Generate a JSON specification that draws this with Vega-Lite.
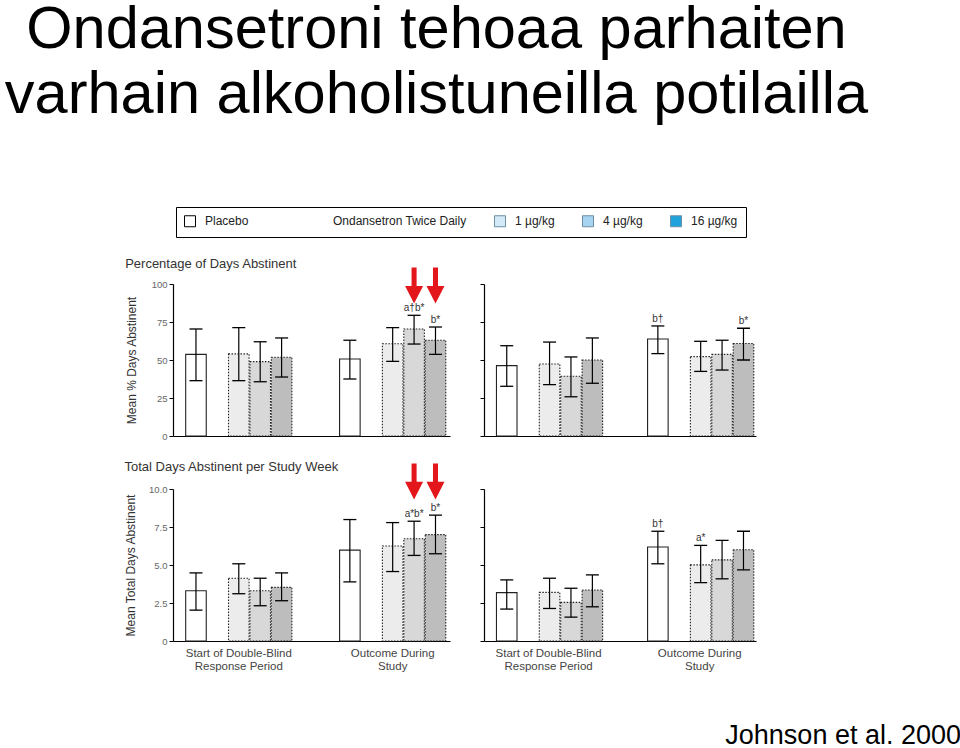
{
  "$schema": "https://vega.github.io/schema/vega-lite/v6.json",
  "padding": {"left": 4, "top": 0, "right": 2, "bottom": 0},
  "background": "white",
  "title": {
    "text": ["Ondansetroni tehoaa parhaiten", "varhain alkoholistuneilla potilailla"],
    "anchor": "start", "align": "center", "dx": 312, "frame": "bounds",
    "fontSize": 59.5, "font": "Liberation Sans", "fontWeight": "normal", "color": "#000",
    "lineHeight": 65, "baseline": "bottom", "offset": 22
  },
  "datasets": {
    "bars": [
      {"side": "early", "measure": "pct", "period": "Start of Double-Blind Response Period", "trt": "Placebo", "mean": 53.7, "lo": 36.4, "hi": 70.4, "sig": ""},
      {"side": "early", "measure": "pct", "period": "Start of Double-Blind Response Period", "trt": "1 µg/kg", "mean": 54, "lo": 36.4, "hi": 71.3, "sig": ""},
      {"side": "early", "measure": "pct", "period": "Start of Double-Blind Response Period", "trt": "4 µg/kg", "mean": 48.9, "lo": 35.7, "hi": 62, "sig": ""},
      {"side": "early", "measure": "pct", "period": "Start of Double-Blind Response Period", "trt": "16 µg/kg", "mean": 51.8, "lo": 38.8, "hi": 64.5, "sig": ""},
      {"side": "early", "measure": "pct", "period": "Outcome During Study", "trt": "Placebo", "mean": 50.7, "lo": 37.5, "hi": 63, "sig": ""},
      {"side": "early", "measure": "pct", "period": "Outcome During Study", "trt": "1 µg/kg", "mean": 60.7, "lo": 49.1, "hi": 71.3, "sig": ""},
      {"side": "early", "measure": "pct", "period": "Outcome During Study", "trt": "4 µg/kg", "mean": 70.4, "lo": 60.5, "hi": 79.4, "sig": "a†b*"},
      {"side": "early", "measure": "pct", "period": "Outcome During Study", "trt": "16 µg/kg", "mean": 63, "lo": 53.7, "hi": 71.7, "sig": "b*"},
      {"side": "late", "measure": "pct", "period": "Start of Double-Blind Response Period", "trt": "Placebo", "mean": 46.3, "lo": 32.7, "hi": 59.4, "sig": ""},
      {"side": "late", "measure": "pct", "period": "Start of Double-Blind Response Period", "trt": "1 µg/kg", "mean": 47.4, "lo": 33.8, "hi": 61.8, "sig": ""},
      {"side": "late", "measure": "pct", "period": "Start of Double-Blind Response Period", "trt": "4 µg/kg", "mean": 39.3, "lo": 25.8, "hi": 52, "sig": ""},
      {"side": "late", "measure": "pct", "period": "Start of Double-Blind Response Period", "trt": "16 µg/kg", "mean": 50, "lo": 34.7, "hi": 64.5, "sig": ""},
      {"side": "late", "measure": "pct", "period": "Outcome During Study", "trt": "Placebo", "mean": 63.8, "lo": 54.2, "hi": 72.4, "sig": "b†"},
      {"side": "late", "measure": "pct", "period": "Outcome During Study", "trt": "1 µg/kg", "mean": 52.2, "lo": 42.5, "hi": 62.3, "sig": ""},
      {"side": "late", "measure": "pct", "period": "Outcome During Study", "trt": "4 µg/kg", "mean": 53.7, "lo": 43.4, "hi": 63, "sig": ""},
      {"side": "late", "measure": "pct", "period": "Outcome During Study", "trt": "16 µg/kg", "mean": 60.9, "lo": 50, "hi": 70.9, "sig": "b*"},
      {"side": "early", "measure": "days", "period": "Start of Double-Blind Response Period", "trt": "Placebo", "mean": 3.31, "lo": 2.03, "hi": 4.48, "sig": ""},
      {"side": "early", "measure": "days", "period": "Start of Double-Blind Response Period", "trt": "1 µg/kg", "mean": 4.13, "lo": 3.11, "hi": 5.08, "sig": ""},
      {"side": "early", "measure": "days", "period": "Start of Double-Blind Response Period", "trt": "4 µg/kg", "mean": 3.31, "lo": 2.32, "hi": 4.13, "sig": ""},
      {"side": "early", "measure": "days", "period": "Start of Double-Blind Response Period", "trt": "16 µg/kg", "mean": 3.53, "lo": 2.65, "hi": 4.48, "sig": ""},
      {"side": "early", "measure": "days", "period": "Outcome During Study", "trt": "Placebo", "mean": 5.98, "lo": 3.89, "hi": 7.99, "sig": ""},
      {"side": "early", "measure": "days", "period": "Outcome During Study", "trt": "1 µg/kg", "mean": 6.25, "lo": 4.57, "hi": 7.79, "sig": ""},
      {"side": "early", "measure": "days", "period": "Outcome During Study", "trt": "4 µg/kg", "mean": 6.73, "lo": 5.63, "hi": 7.88, "sig": "a*b*"},
      {"side": "early", "measure": "days", "period": "Outcome During Study", "trt": "16 µg/kg", "mean": 7.0, "lo": 5.74, "hi": 8.28, "sig": "b*"},
      {"side": "late", "measure": "days", "period": "Start of Double-Blind Response Period", "trt": "Placebo", "mean": 3.18, "lo": 2.1, "hi": 4.02, "sig": ""},
      {"side": "late", "measure": "days", "period": "Start of Double-Blind Response Period", "trt": "1 µg/kg", "mean": 3.2, "lo": 2.14, "hi": 4.13, "sig": ""},
      {"side": "late", "measure": "days", "period": "Start of Double-Blind Response Period", "trt": "4 µg/kg", "mean": 2.54, "lo": 1.57, "hi": 3.47, "sig": ""},
      {"side": "late", "measure": "days", "period": "Start of Double-Blind Response Period", "trt": "16 µg/kg", "mean": 3.36, "lo": 2.25, "hi": 4.35, "sig": ""},
      {"side": "late", "measure": "days", "period": "Outcome During Study", "trt": "Placebo", "mean": 6.18, "lo": 5.08, "hi": 7.22, "sig": "b†"},
      {"side": "late", "measure": "days", "period": "Outcome During Study", "trt": "1 µg/kg", "mean": 5.01, "lo": 3.84, "hi": 6.29, "sig": "a*"},
      {"side": "late", "measure": "days", "period": "Outcome During Study", "trt": "4 µg/kg", "mean": 5.34, "lo": 4.09, "hi": 6.62, "sig": ""},
      {"side": "late", "measure": "days", "period": "Outcome During Study", "trt": "16 µg/kg", "mean": 6.0, "lo": 4.68, "hi": 7.22, "sig": ""}
    ],
    "arrows": [
      {"side": "early", "measure": "pct", "period": "Outcome During Study", "trt": "4 µg/kg", "ay": 99},
      {"side": "early", "measure": "pct", "period": "Outcome During Study", "trt": "16 µg/kg", "ay": 99},
      {"side": "early", "measure": "days", "period": "Outcome During Study", "trt": "4 µg/kg", "ay": 10.5},
      {"side": "early", "measure": "days", "period": "Outcome During Study", "trt": "16 µg/kg", "ay": 10.5}
    ]
  },
  "columns": 2,
  "spacing": {"row": 53, "column": 34},
  "bounds": "flush",
  "concat": [
    {
      "width": 277, "height": 152,
      "title": {"text": "Percentage of Days Abstinent", "anchor": "start", "frame": "bounds", "fontSize": 13, "fontWeight": "normal", "color": "#333", "offset": -3, "font": "Liberation Sans"},
      "data": {"name": "bars"},
      "transform": [{"filter": "datum.side == 'early' && datum.measure == 'pct'"}],
      "encoding": {
        "x": {"field": "period", "type": "nominal", "scale": {"domain": ["Start of Double-Blind Response Period", "Outcome During Study"], "paddingInner": 0.31, "paddingOuter": 0.055, "align": 0.75}, "axis": {"labels": false, "ticks": false, "title": null, "domainColor": "#000", "domainWidth": 1.2}},
        "xOffset": {"field": "trt", "type": "nominal", "scale": {"domain": ["Placebo", "gap", "1 µg/kg", "4 µg/kg", "16 µg/kg"], "paddingInner": 0.04, "paddingOuter": 0}}
      },
      "layer": [
        {"mark": {"type": "bar", "stroke": "#222", "strokeWidth": 1.1},
         "encoding": {
           "y": {"field": "mean", "type": "quantitative", "scale": {"domain": [0, 100], "nice": false}, "axis": {"values": [0, 25, 50, 75, 100], "title": "Mean % Days Abstinent", "titleFontSize": 12, "titleFontWeight": "normal", "titleColor": "#333", "titlePadding": 13, "labelFontSize": 9.5, "labelColor": "#666", "tickSize": 4, "labelPadding": 2, "domainWidth": 1.2, "grid": false}},
           "fill": {"field": "trt", "type": "nominal", "scale": {"domain": ["Placebo", "1 µg/kg", "4 µg/kg", "16 µg/kg"], "range": ["#ffffff", "#ececec", "#d8d8d8", "#bdbdbd"]}, "legend": null},
           "strokeDash": {"field": "trt", "type": "nominal", "scale": {"domain": ["Placebo", "1 µg/kg", "4 µg/kg", "16 µg/kg"], "range": [[1, 0], [1.5, 1.5], [1.5, 1.5], [1.5, 1.5]]}, "legend": null}
         }},
        {"mark": {"type": "rule", "color": "#000", "strokeWidth": 1.2},
         "encoding": {"y": {"field": "lo", "type": "quantitative", "scale": {"domain": [0, 100], "nice": false}, "axis": {"values": [0, 25, 50, 75, 100], "title": "Mean % Days Abstinent", "titleFontSize": 12, "titleFontWeight": "normal", "titleColor": "#333", "titlePadding": 13, "labelFontSize": 9.5, "labelColor": "#666", "tickSize": 4, "labelPadding": 2, "domainWidth": 1.2, "grid": false}}, "y2": {"field": "hi"}}},
        {"mark": {"type": "tick", "color": "#000", "size": 13, "thickness": 1.3, "opacity": 1},
         "encoding": {"y": {"field": "lo", "type": "quantitative", "scale": {"domain": [0, 100], "nice": false}, "axis": {"values": [0, 25, 50, 75, 100], "title": "Mean % Days Abstinent", "titleFontSize": 12, "titleFontWeight": "normal", "titleColor": "#333", "titlePadding": 13, "labelFontSize": 9.5, "labelColor": "#666", "tickSize": 4, "labelPadding": 2, "domainWidth": 1.2, "grid": false}}}},
        {"mark": {"type": "tick", "color": "#000", "size": 13, "thickness": 1.3, "opacity": 1},
         "encoding": {"y": {"field": "hi", "type": "quantitative", "scale": {"domain": [0, 100], "nice": false}, "axis": {"values": [0, 25, 50, 75, 100], "title": "Mean % Days Abstinent", "titleFontSize": 12, "titleFontWeight": "normal", "titleColor": "#333", "titlePadding": 13, "labelFontSize": 9.5, "labelColor": "#666", "tickSize": 4, "labelPadding": 2, "domainWidth": 1.2, "grid": false}}}},
        {"transform": [{"filter": "datum.sig != ''"}],
         "mark": {"type": "text", "baseline": "bottom", "dy": -2, "fontSize": 10, "color": "#333"},
         "encoding": {"y": {"field": "hi", "type": "quantitative", "scale": {"domain": [0, 100], "nice": false}, "axis": {"values": [0, 25, 50, 75, 100], "title": "Mean % Days Abstinent", "titleFontSize": 12, "titleFontWeight": "normal", "titleColor": "#333", "titlePadding": 13, "labelFontSize": 9.5, "labelColor": "#666", "tickSize": 4, "labelPadding": 2, "domainWidth": 1.2, "grid": false}}, "text": {"field": "sig"}}},
        {"data": {"name": "arrows"},
         "transform": [{"filter": "datum.side == 'early' && datum.measure == 'pct'"}],
         "mark": {"type": "point", "shape": "M-0.28,-2L0.28,-2L0.28,0.05L1,0.05L0,2L-1,0.05L-0.28,0.05Z", "size": 324, "filled": true, "color": "#e3161b", "opacity": 1, "strokeWidth": 0},
         "encoding": {"y": {"field": "ay", "type": "quantitative", "scale": {"domain": [0, 100], "nice": false}, "axis": {"values": [0, 25, 50, 75, 100], "title": "Mean % Days Abstinent", "titleFontSize": 12, "titleFontWeight": "normal", "titleColor": "#333", "titlePadding": 13, "labelFontSize": 9.5, "labelColor": "#666", "tickSize": 4, "labelPadding": 2, "domainWidth": 1.2, "grid": false}}}},
        {"transform": [{"filter": "false"}],
         "mark": {"type": "point", "filled": true, "opacity": 1},
         "encoding": {"color": {"field": "trt", "type": "nominal",
           "scale": {"domain": ["Placebo", "Ondansetron Twice Daily", "1 µg/kg", "4 µg/kg", "16 µg/kg"], "range": ["#ffffff", "transparent", "#d3eaf8", "#a6d4f1", "#1fa3dd"]},
           "legend": {"orient": "none", "legendX": 3, "legendY": -77, "direction": "horizontal", "title": null,
             "symbolType": "square", "symbolSize": 121, "symbolStrokeWidth": 1, "symbolOpacity": 1,
             "labelFontSize": 12, "labelFont": "Liberation Sans", "labelColor": "#222", "labelOffset": 9, "labelLimit": 400,
             "columnPadding": 25, "padding": 8, "strokeColor": "#000", "fillColor": "#fff",
             "labelExpr": "datum.label == 'Placebo' ? 'Placebo\u2800\u2800\u2800\u2800' : datum.label",
             "encode": {"symbols": {"update": {"stroke": {"signal": "datum.value == 'Ondansetron Twice Daily' ? 'transparent' : datum.value == 'Placebo' ? '#000000' : '#6d8fa3'"}, "strokeWidth": {"value": 1}, "opacity": {"value": 1}}}}
           }}}}
      ]
    },
    {
      "width": 272, "height": 152,
      "data": {"name": "bars"},
      "transform": [{"filter": "datum.side == 'late' && datum.measure == 'pct'"}],
      "encoding": {
        "x": {"field": "period", "type": "nominal", "scale": {"domain": ["Start of Double-Blind Response Period", "Outcome During Study"], "paddingInner": 0.31, "paddingOuter": 0.055, "align": 0.75}, "axis": {"labels": false, "ticks": false, "title": null, "domainColor": "#000", "domainWidth": 1.2}},
        "xOffset": {"field": "trt", "type": "nominal", "scale": {"domain": ["Placebo", "gap", "1 µg/kg", "4 µg/kg", "16 µg/kg"], "paddingInner": 0.04, "paddingOuter": 0}}
      },
      "layer": [
        {"mark": {"type": "bar", "stroke": "#222", "strokeWidth": 1.1},
         "encoding": {
           "y": {"field": "mean", "type": "quantitative", "scale": {"domain": [0, 100], "nice": false}, "axis": {"values": [0, 25, 50, 75, 100], "labels": false, "title": null, "tickSize": 4, "domainWidth": 1.2, "grid": false}},
           "fill": {"field": "trt", "type": "nominal", "scale": {"domain": ["Placebo", "1 µg/kg", "4 µg/kg", "16 µg/kg"], "range": ["#ffffff", "#ececec", "#d8d8d8", "#bdbdbd"]}, "legend": null},
           "strokeDash": {"field": "trt", "type": "nominal", "scale": {"domain": ["Placebo", "1 µg/kg", "4 µg/kg", "16 µg/kg"], "range": [[1, 0], [1.5, 1.5], [1.5, 1.5], [1.5, 1.5]]}, "legend": null}
         }},
        {"mark": {"type": "rule", "color": "#000", "strokeWidth": 1.2},
         "encoding": {"y": {"field": "lo", "type": "quantitative", "scale": {"domain": [0, 100], "nice": false}, "axis": {"values": [0, 25, 50, 75, 100], "labels": false, "title": null, "tickSize": 4, "domainWidth": 1.2, "grid": false}}, "y2": {"field": "hi"}}},
        {"mark": {"type": "tick", "color": "#000", "size": 13, "thickness": 1.3, "opacity": 1},
         "encoding": {"y": {"field": "lo", "type": "quantitative", "scale": {"domain": [0, 100], "nice": false}, "axis": {"values": [0, 25, 50, 75, 100], "labels": false, "title": null, "tickSize": 4, "domainWidth": 1.2, "grid": false}}}},
        {"mark": {"type": "tick", "color": "#000", "size": 13, "thickness": 1.3, "opacity": 1},
         "encoding": {"y": {"field": "hi", "type": "quantitative", "scale": {"domain": [0, 100], "nice": false}, "axis": {"values": [0, 25, 50, 75, 100], "labels": false, "title": null, "tickSize": 4, "domainWidth": 1.2, "grid": false}}}},
        {"transform": [{"filter": "datum.sig != ''"}],
         "mark": {"type": "text", "baseline": "bottom", "dy": -2, "fontSize": 10, "color": "#333"},
         "encoding": {"y": {"field": "hi", "type": "quantitative", "scale": {"domain": [0, 100], "nice": false}, "axis": {"values": [0, 25, 50, 75, 100], "labels": false, "title": null, "tickSize": 4, "domainWidth": 1.2, "grid": false}}, "text": {"field": "sig"}}}
      ]
    },
    {
      "width": 277, "height": 152,
      "title": {"text": "Total Days Abstinent per Study Week", "anchor": "start", "frame": "bounds", "fontSize": 13, "fontWeight": "normal", "color": "#333", "offset": -11, "font": "Liberation Sans"},
      "data": {"name": "bars"},
      "transform": [{"filter": "datum.side == 'early' && datum.measure == 'days'"}],
      "encoding": {
        "x": {"field": "period", "type": "nominal", "scale": {"domain": ["Start of Double-Blind Response Period", "Outcome During Study"], "paddingInner": 0.31, "paddingOuter": 0.055, "align": 0.75}, "axis": {"labels": true, "ticks": false, "title": null, "labelAngle": 0, "labelAlign": "center", "labelBaseline": "top", "labelPadding": 6, "labelFontSize": 11.5, "labelLineHeight": 13, "labelColor": "#444", "labelLimit": 300, "labelExpr": "datum.value == 'Outcome During Study' ? ['Outcome During', 'Study'] : ['Start of Double-Blind', 'Response Period']", "domainColor": "#000", "domainWidth": 1.2}},
        "xOffset": {"field": "trt", "type": "nominal", "scale": {"domain": ["Placebo", "gap", "1 µg/kg", "4 µg/kg", "16 µg/kg"], "paddingInner": 0.04, "paddingOuter": 0}}
      },
      "layer": [
        {"mark": {"type": "bar", "stroke": "#222", "strokeWidth": 1.1},
         "encoding": {
           "y": {"field": "mean", "type": "quantitative", "scale": {"domain": [0, 10], "nice": false}, "axis": {"values": [0, 2.5, 5, 7.5, 10], "labelExpr": "datum.value == 0 ? '0' : format(datum.value, '.1f')", "title": "Mean Total Days Abstinent", "titleFontSize": 12, "titleFontWeight": "normal", "titleColor": "#333", "titlePadding": 11, "labelFontSize": 9.5, "labelColor": "#666", "tickSize": 4, "labelPadding": 2, "domainWidth": 1.2, "grid": false}},
           "fill": {"field": "trt", "type": "nominal", "scale": {"domain": ["Placebo", "1 µg/kg", "4 µg/kg", "16 µg/kg"], "range": ["#ffffff", "#ececec", "#d8d8d8", "#bdbdbd"]}, "legend": null},
           "strokeDash": {"field": "trt", "type": "nominal", "scale": {"domain": ["Placebo", "1 µg/kg", "4 µg/kg", "16 µg/kg"], "range": [[1, 0], [1.5, 1.5], [1.5, 1.5], [1.5, 1.5]]}, "legend": null}
         }},
        {"mark": {"type": "rule", "color": "#000", "strokeWidth": 1.2},
         "encoding": {"y": {"field": "lo", "type": "quantitative", "scale": {"domain": [0, 10], "nice": false}, "axis": {"values": [0, 2.5, 5, 7.5, 10], "labelExpr": "datum.value == 0 ? '0' : format(datum.value, '.1f')", "title": "Mean Total Days Abstinent", "titleFontSize": 12, "titleFontWeight": "normal", "titleColor": "#333", "titlePadding": 11, "labelFontSize": 9.5, "labelColor": "#666", "tickSize": 4, "labelPadding": 2, "domainWidth": 1.2, "grid": false}}, "y2": {"field": "hi"}}},
        {"mark": {"type": "tick", "color": "#000", "size": 13, "thickness": 1.3, "opacity": 1},
         "encoding": {"y": {"field": "lo", "type": "quantitative", "scale": {"domain": [0, 10], "nice": false}, "axis": {"values": [0, 2.5, 5, 7.5, 10], "labelExpr": "datum.value == 0 ? '0' : format(datum.value, '.1f')", "title": "Mean Total Days Abstinent", "titleFontSize": 12, "titleFontWeight": "normal", "titleColor": "#333", "titlePadding": 11, "labelFontSize": 9.5, "labelColor": "#666", "tickSize": 4, "labelPadding": 2, "domainWidth": 1.2, "grid": false}}}},
        {"mark": {"type": "tick", "color": "#000", "size": 13, "thickness": 1.3, "opacity": 1},
         "encoding": {"y": {"field": "hi", "type": "quantitative", "scale": {"domain": [0, 10], "nice": false}, "axis": {"values": [0, 2.5, 5, 7.5, 10], "labelExpr": "datum.value == 0 ? '0' : format(datum.value, '.1f')", "title": "Mean Total Days Abstinent", "titleFontSize": 12, "titleFontWeight": "normal", "titleColor": "#333", "titlePadding": 11, "labelFontSize": 9.5, "labelColor": "#666", "tickSize": 4, "labelPadding": 2, "domainWidth": 1.2, "grid": false}}}},
        {"transform": [{"filter": "datum.sig != ''"}],
         "mark": {"type": "text", "baseline": "bottom", "dy": -2, "fontSize": 10, "color": "#333"},
         "encoding": {"y": {"field": "hi", "type": "quantitative", "scale": {"domain": [0, 10], "nice": false}, "axis": {"values": [0, 2.5, 5, 7.5, 10], "labelExpr": "datum.value == 0 ? '0' : format(datum.value, '.1f')", "title": "Mean Total Days Abstinent", "titleFontSize": 12, "titleFontWeight": "normal", "titleColor": "#333", "titlePadding": 11, "labelFontSize": 9.5, "labelColor": "#666", "tickSize": 4, "labelPadding": 2, "domainWidth": 1.2, "grid": false}}, "text": {"field": "sig"}}},
        {"data": {"name": "arrows"},
         "transform": [{"filter": "datum.side == 'early' && datum.measure == 'days'"}],
         "mark": {"type": "point", "shape": "M-0.28,-2L0.28,-2L0.28,0.05L1,0.05L0,2L-1,0.05L-0.28,0.05Z", "size": 324, "filled": true, "color": "#e3161b", "opacity": 1, "strokeWidth": 0},
         "encoding": {"y": {"field": "ay", "type": "quantitative", "scale": {"domain": [0, 10], "nice": false}, "axis": {"values": [0, 2.5, 5, 7.5, 10], "labelExpr": "datum.value == 0 ? '0' : format(datum.value, '.1f')", "title": "Mean Total Days Abstinent", "titleFontSize": 12, "titleFontWeight": "normal", "titleColor": "#333", "titlePadding": 11, "labelFontSize": 9.5, "labelColor": "#666", "tickSize": 4, "labelPadding": 2, "domainWidth": 1.2, "grid": false}}}}
      ]
    },
    {
      "width": 272, "height": 152,
      "title": {"text": "Johnson et al. 2000", "orient": "bottom", "anchor": "end", "frame": "bounds", "dx": 205, "offset": 51, "fontSize": 27, "font": "Liberation Sans", "fontWeight": "normal", "color": "#000", "baseline": "top"},
      "data": {"name": "bars"},
      "transform": [{"filter": "datum.side == 'late' && datum.measure == 'days'"}],
      "encoding": {
        "x": {"field": "period", "type": "nominal", "scale": {"domain": ["Start of Double-Blind Response Period", "Outcome During Study"], "paddingInner": 0.31, "paddingOuter": 0.055, "align": 0.75}, "axis": {"labels": true, "ticks": false, "title": null, "labelAngle": 0, "labelAlign": "center", "labelBaseline": "top", "labelPadding": 6, "labelFontSize": 11.5, "labelLineHeight": 13, "labelColor": "#444", "labelLimit": 300, "labelExpr": "datum.value == 'Outcome During Study' ? ['Outcome During', 'Study'] : ['Start of Double-Blind', 'Response Period']", "domainColor": "#000", "domainWidth": 1.2}},
        "xOffset": {"field": "trt", "type": "nominal", "scale": {"domain": ["Placebo", "gap", "1 µg/kg", "4 µg/kg", "16 µg/kg"], "paddingInner": 0.04, "paddingOuter": 0}}
      },
      "layer": [
        {"mark": {"type": "bar", "stroke": "#222", "strokeWidth": 1.1},
         "encoding": {
           "y": {"field": "mean", "type": "quantitative", "scale": {"domain": [0, 10], "nice": false}, "axis": {"values": [0, 2.5, 5, 7.5, 10], "labels": false, "title": null, "tickSize": 4, "domainWidth": 1.2, "grid": false}},
           "fill": {"field": "trt", "type": "nominal", "scale": {"domain": ["Placebo", "1 µg/kg", "4 µg/kg", "16 µg/kg"], "range": ["#ffffff", "#ececec", "#d8d8d8", "#bdbdbd"]}, "legend": null},
           "strokeDash": {"field": "trt", "type": "nominal", "scale": {"domain": ["Placebo", "1 µg/kg", "4 µg/kg", "16 µg/kg"], "range": [[1, 0], [1.5, 1.5], [1.5, 1.5], [1.5, 1.5]]}, "legend": null}
         }},
        {"mark": {"type": "rule", "color": "#000", "strokeWidth": 1.2},
         "encoding": {"y": {"field": "lo", "type": "quantitative", "scale": {"domain": [0, 10], "nice": false}, "axis": {"values": [0, 2.5, 5, 7.5, 10], "labels": false, "title": null, "tickSize": 4, "domainWidth": 1.2, "grid": false}}, "y2": {"field": "hi"}}},
        {"mark": {"type": "tick", "color": "#000", "size": 13, "thickness": 1.3, "opacity": 1},
         "encoding": {"y": {"field": "lo", "type": "quantitative", "scale": {"domain": [0, 10], "nice": false}, "axis": {"values": [0, 2.5, 5, 7.5, 10], "labels": false, "title": null, "tickSize": 4, "domainWidth": 1.2, "grid": false}}}},
        {"mark": {"type": "tick", "color": "#000", "size": 13, "thickness": 1.3, "opacity": 1},
         "encoding": {"y": {"field": "hi", "type": "quantitative", "scale": {"domain": [0, 10], "nice": false}, "axis": {"values": [0, 2.5, 5, 7.5, 10], "labels": false, "title": null, "tickSize": 4, "domainWidth": 1.2, "grid": false}}}},
        {"transform": [{"filter": "datum.sig != ''"}],
         "mark": {"type": "text", "baseline": "bottom", "dy": -2, "fontSize": 10, "color": "#333"},
         "encoding": {"y": {"field": "hi", "type": "quantitative", "scale": {"domain": [0, 10], "nice": false}, "axis": {"values": [0, 2.5, 5, 7.5, 10], "labels": false, "title": null, "tickSize": 4, "domainWidth": 1.2, "grid": false}}, "text": {"field": "sig"}}}
      ]
    }
  ],
  "config": {
    "view": {"stroke": null},
    "font": "Liberation Sans",
    "axis": {"domainColor": "#000", "tickColor": "#000", "labelColor": "#555", "labelFont": "Liberation Sans", "titleFont": "Liberation Sans", "grid": false}
  }
}
